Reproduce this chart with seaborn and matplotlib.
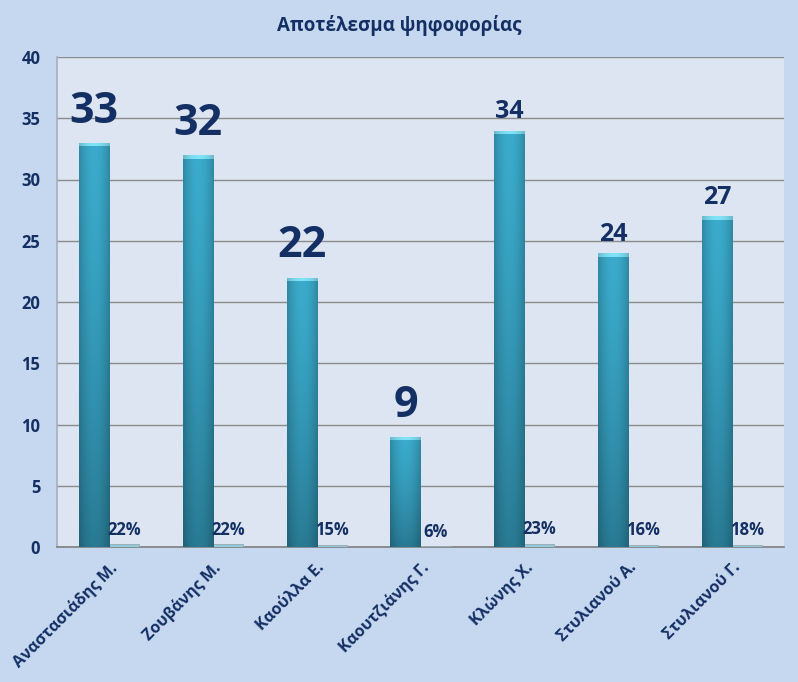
import numpy as np
import pandas as pd
import matplotlib
matplotlib.use("Agg")
import matplotlib.pyplot as plt
import seaborn as sns

# data
candidates = ["Αναστασιάδης Μ.", "Ζουβάνης Μ.", "Καούλλα Ε.", "Καουτζιάνης Γ.",
              "Κλώνης Χ.", "Στυλιανού Α.", "Στυλιανού Γ."]
votes = [33, 32, 22, 9, 34, 24, 27]
shares = [0.22, 0.22, 0.15, 0.06, 0.23, 0.16, 0.18]
share_labels = ["22%", "22%", "15%", "6%", "23%", "16%", "18%"]

# label font sizes (the original mixes big and small value labels)
vote_label_sizes = [31, 31, 31, 31, 18, 18, 18]

navy = "#142F64"
fig_bg = "#C6D8EF"
ax_bg = "#DCE5F1"

sns.set_theme(style="white")
plt.rcParams['font.family'] = ['Open Sans', 'DejaVu Sans']

df = pd.DataFrame({
    "candidate": candidates * 2,
    "value": votes + shares,
    "series": ["votes"] * len(votes) + ["share"] * len(shares),
})

fig = plt.figure(figsize=(7.98, 6.82), dpi=100, facecolor=fig_bg)
ax = fig.add_axes([57 / 798, 135 / 682, 727 / 798, 490 / 682])
ax.set_facecolor(ax_bg)

sns.barplot(data=df, x="candidate", y="value", hue="series",
            palette=["#35A3C3", "#8CCFDF"], width=0.578, gap=0,
            edgecolor="none", legend=False, ax=ax, zorder=3)

ax.set_ylim(0, 40)
ax.set_yticks(range(0, 41, 5))
ax.yaxis.grid(True, color="#8C8C8C", linewidth=1, zorder=0)
ax.set_axisbelow(True)
ax.set_xlabel("")
ax.set_ylabel("")

for s in ["top", "right"]:
    ax.spines[s].set_visible(False)
ax.spines["left"].set_color("#A8B0BC")
ax.spines["bottom"].set_color("#7F7F7F")
ax.spines["bottom"].set_linewidth(1.2)

ax.tick_params(axis="both", length=0)
ax.tick_params(axis="y", pad=12)
ax.tick_params(axis="x", pad=9)
for t in ax.get_yticklabels():
    t.set_fontsize(12)
    t.set_fontweight("bold")
    t.set_color(navy)
ax.set_xticks(range(len(candidates)))
ax.set_xticklabels(candidates, rotation=45, ha="right", rotation_mode="anchor",
                   fontsize=11.5, fontweight="bold", color=navy)

# shaded (cylinder-like) fill for the vote bars
n = len(candidates)
vote_bars = ax.patches[:n]
share_bars = ax.patches[n:2 * n]
px_per_unit = 490 / 40
xs = np.linspace(0, 1, 60)
horiz = 1 - 0.2 * (2 * xs - 1) ** 2
for bar in vote_bars:
    x0, w, h = bar.get_x(), bar.get_width(), bar.get_height()
    rows = max(int(h * px_per_unit), 2)
    ys = np.linspace(0, 1, rows)[:, None]
    top = np.array([0.23, 0.67, 0.80])
    bot = np.array([0.16, 0.48, 0.58])
    col = top + (bot - top) * (ys[..., None] ** 1.4)
    img = col * horiz[None, :, None]
    img[:4] = np.array([0.45, 0.84, 0.92]) * horiz[None, :, None] + 0.05
    img = np.clip(img, 0, 1)
    im = ax.imshow(img, extent=[x0, x0 + w, 0, h], origin="upper",
                   aspect="auto", zorder=4, interpolation="bilinear")
    im.set_clip_path(bar)
    bar.set_facecolor("none")

for bar in share_bars:
    bar.set_facecolor("#8FCBDA")
    bar.set_edgecolor("#9AA8B0")
    bar.set_linewidth(0.6)

ax.set_xlim(-0.5, n - 0.5)

for bar, v, fs in zip(vote_bars, votes, vote_label_sizes):
    ax.annotate(str(v), (bar.get_x() + bar.get_width() / 2, v),
                xytext=(0, 0.42 * fs + 1.4), textcoords="offset points",
                ha="center", va="baseline", fontsize=fs, fontweight="bold",
                color=navy, zorder=6)

for bar, lab in zip(share_bars, share_labels):
    ax.annotate(lab, (bar.get_x() + bar.get_width() / 2, bar.get_height()),
                xytext=(0, 7), textcoords="offset points",
                ha="center", va="baseline", fontsize=12, fontweight="bold",
                color=navy, zorder=6)

fig.text(0.5, 1 - 25 / 682, "Αποτέλεσμα ψηφοφορίας", ha="center", va="center",
         fontsize=13.5, fontweight="bold", color=navy)

fig.savefig("out.png", dpi=100, facecolor=fig_bg)
